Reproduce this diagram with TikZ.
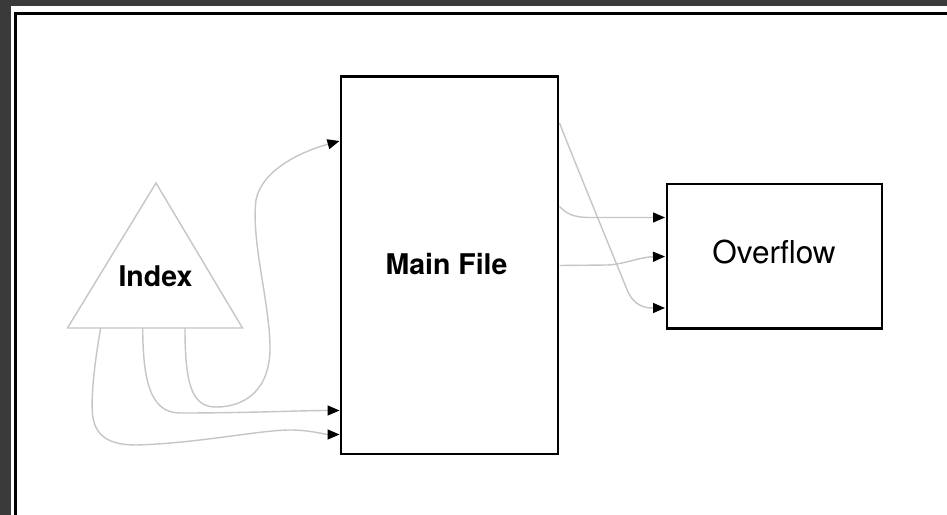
\documentclass[tikz,border=0pt]{standalone}
\usepackage{fontspec}
\setmainfont{TeX Gyre Heros}
\usetikzlibrary{arrows.meta}
\definecolor{framegray}{HTML}{3A3A3A}
\definecolor{linegray}{HTML}{C6C6C6}
\begin{document}
\begin{tikzpicture}[x=1bp,y=-1bp,
  box/.style={draw=black,line width=2.7bp,inner sep=0pt},
  tri/.style={draw=linegray,line width=1.4bp,line join=miter},
  conn/.style={draw=linegray,line width=1.4bp,-{Triangle[length=12bp,width=10bp,color=black]}},
  lblb/.style={inner sep=0pt,font=\fontsize{28.5bp}{30bp}\selectfont\bfseries},
  lblr/.style={inner sep=0pt,font=\fontsize{31.5bp}{33bp}\selectfont}]
\useasboundingbox (0,0) rectangle (947,515);
\fill[white] (0,0) rectangle (947,515);
% outer frame
\fill[framegray] (0,0) rectangle (947,6);
\fill[framegray] (0,0) rectangle (11,515);
\draw[black,line width=3bp] (947,13.5) -- (15.5,13.5) -- (15.5,515);
% boxes
\node[box,minimum width=217bp,minimum height=377.5bp] (main) at (449.5,265.25) {};
\node[box,minimum width=215bp,minimum height=144.5bp] (over) at (774.5,256.25) {};
\node[lblb] (maintxt) at (446.5,264.5) {Main File};
\node[lblr] (overtxt) at (774,252.5) {Overflow};
% index triangle
\draw[tri] (156,183) -- (242.5,328) -- (67.5,328) -- cycle;
\node[lblb] (idx) at (155.5,276) {Index};
% start / end points
\coordinate (i1) at (185,328);
\coordinate (i2) at (142.7,328);
\coordinate (i3) at (100.7,328);
\coordinate (t1) at (339.5,141);
\coordinate (t2) at (339.5,410.5);
\coordinate (t3) at (339.5,434.5);
\coordinate (r1) at (559.5,123);
\coordinate (r2) at (559.5,206.5);
\coordinate (r3) at (559.5,265.5);
\coordinate (o1) at (665,308);
\coordinate (o2) at (665,217.5);
\coordinate (o3) at (665,256.5);
% connectors from index
\draw[conn] (i1) .. controls (185,385) and (192,407) .. (216,407)
  .. controls (245,407) and (271,390) .. (270,345)
  .. controls (269,300) and (251,240) .. (256,200)
  .. controls (262,170) and (300,152) .. (t1);
\draw[conn] (i2) .. controls (143,380) and (150,413) .. (180,413)
  .. controls (250,413) and (300,410.5) .. (t2);
\draw[conn] (i3) .. controls (95,360) and (90,400) .. (93,418)
  .. controls (97,440) and (115,445) .. (137,445)
  .. controls (200,443) and (260,430) .. (290,430)
  .. controls (310,430) and (325,434.5) .. (t3);
% connectors to overflow
\draw[conn] (r1) .. controls (580,175) and (615,260) .. (628,292)
  .. controls (634,304) and (642,308) .. (o1);
\draw[conn] (r2) .. controls (566,213) and (572,217.5) .. (590,217.5) -- (o2);
\draw[conn] (r3) -- (608,265) .. controls (625,264) and (640,257) .. (o3);
\end{tikzpicture}
\end{document}
